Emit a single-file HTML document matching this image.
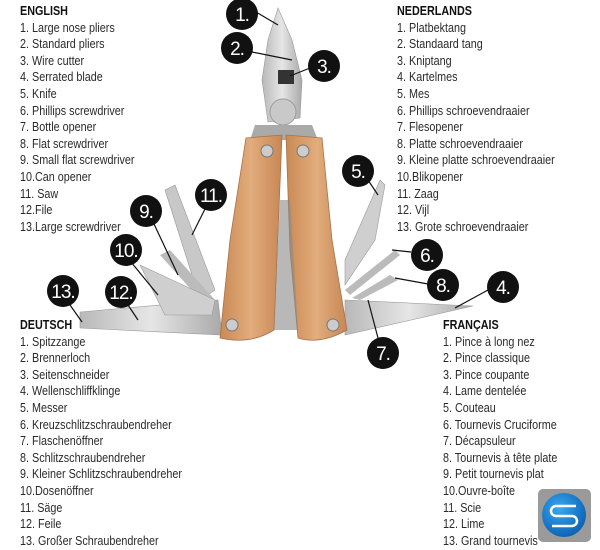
<!DOCTYPE html>
<html><head><meta charset="utf-8"><style>
html,body{margin:0;padding:0;background:#fff;width:600px;height:550px;overflow:hidden;position:relative}
.col{position:absolute;font-family:"Liberation Sans",sans-serif;font-size:13px;line-height:16.6px;color:#2a2a2a;white-space:nowrap;transform:scaleX(0.83);transform-origin:0 0}
.col b{font-weight:bold;color:#111}
svg{position:absolute;left:0;top:0}
</style></head><body>
<svg width="600" height="550" viewBox="0 0 600 550">
<defs>
<linearGradient id="m" x1="0" x2="1"><stop offset="0" stop-color="#b8b8b8"/><stop offset=".5" stop-color="#e6e6e6"/><stop offset="1" stop-color="#a9a9a9"/></linearGradient>
<linearGradient id="w" x1="0" x2="1"><stop offset="0" stop-color="#c98a55"/><stop offset=".5" stop-color="#e2ac7c"/><stop offset="1" stop-color="#c78754"/></linearGradient>
<radialGradient id="b" cx=".4" cy=".35" r=".7"><stop offset="0" stop-color="#39a8f0"/><stop offset="1" stop-color="#0a5fb0"/></radialGradient>
</defs>
<path d="M278 8 L292 40 L302 80 L300 118 L268 122 L262 80 L268 40 Z" fill="url(#m)" stroke="#999" stroke-width=".6"/>
<rect x="278" y="70" width="16" height="14" fill="#333"/>
<circle cx="283" cy="112" r="13" fill="#c9c9c9" stroke="#9a9a9a"/>
<path d="M255 125 L312 125 L318 140 L250 140 Z" fill="#aaa"/>
<path d="M80 312 L218 300 L222 335 L80 328 Z" fill="url(#m)" stroke="#999" stroke-width=".6"/>
<path d="M165 190 L175 185 L215 290 L200 300 Z" fill="#c8c8c8" stroke="#999" stroke-width=".6"/>
<path d="M160 255 L170 250 L215 300 L205 305 Z" fill="#bbb"/>
<path d="M140 265 L215 300 L212 315 L165 315 Z" fill="#cfcfcf" stroke="#999" stroke-width=".6"/>
<path d="M345 300 L473 306 L345 335 Z" fill="url(#m)" stroke="#999" stroke-width=".6"/>
<path d="M380 180 L385 185 L375 240 L345 285 L345 260 Z" fill="#cfcfcf" stroke="#999" stroke-width=".6"/>
<path d="M395 250 L400 255 L350 295 L345 290 Z" fill="#bbb"/>
<path d="M390 275 L398 280 L360 300 L352 298 Z" fill="#bbb"/>
<path d="M246 138 L282 135 L274 330 Q250 345 220 338 L230 240 Z" fill="url(#w)" stroke="#a8714a" stroke-width=".8"/>
<path d="M286 135 L322 138 L332 240 L347 330 Q320 345 298 338 L290 250 Z" fill="url(#w)" stroke="#a8714a" stroke-width=".8"/>
<path d="M280 200 L290 200 L298 330 L274 330 Z" fill="#888" opacity=".6"/>
<circle cx="267" cy="151" r="6" fill="#ccc" stroke="#777"/>
<circle cx="303" cy="151" r="6" fill="#ccc" stroke="#777"/>
<circle cx="232" cy="325" r="6" fill="#ccc" stroke="#777"/>
<circle cx="333" cy="325" r="6" fill="#ccc" stroke="#777"/>
<g stroke="#111" stroke-width="1.2">
<line x1="256" y1="12" x2="278" y2="25"/><line x1="252" y1="52" x2="292" y2="60"/><line x1="310" y1="68" x2="290" y2="76"/>
<line x1="368" y1="180" x2="378" y2="195"/><line x1="411" y1="252" x2="392" y2="250"/><line x1="428" y1="284" x2="395" y2="278"/>
<line x1="488" y1="290" x2="455" y2="308"/><line x1="378" y1="338" x2="368" y2="300"/>
<line x1="205" y1="209" x2="192" y2="235"/><line x1="154" y1="224" x2="178" y2="275"/><line x1="131" y1="262" x2="158" y2="295"/>
<line x1="128" y1="305" x2="138" y2="320"/><line x1="70" y1="305" x2="82" y2="322"/>
</g>
<g fill="#111">
<circle cx="242" cy="14" r="16"/><circle cx="237" cy="48" r="16"/><circle cx="324" cy="66" r="16"/>
<circle cx="358" cy="171" r="16"/><circle cx="427" cy="255" r="16"/><circle cx="443" cy="285" r="16"/>
<circle cx="503" cy="287" r="16"/><circle cx="383" cy="353" r="16"/><circle cx="211" cy="195" r="16"/>
<circle cx="146" cy="211" r="16"/><circle cx="126" cy="250" r="16"/><circle cx="121" cy="292" r="16"/><circle cx="63" cy="291" r="16"/>
</g>
<g fill="#fff" font-family="Liberation Sans,sans-serif" font-size="19" text-anchor="middle" letter-spacing="-1">
<text x="242" y="21">1.</text><text x="237" y="55">2.</text><text x="324" y="73">3.</text>
<text x="358" y="178">5.</text><text x="427" y="262">6.</text><text x="443" y="292">8.</text>
<text x="503" y="294">4.</text><text x="383" y="360">7.</text><text x="211" y="202">11.</text>
<text x="146" y="218">9.</text><text x="126" y="257">10.</text><text x="121" y="299">12.</text><text x="63" y="298">13.</text>
</g>
<rect x="538" y="489" width="53" height="53" rx="5" fill="#9a9a9a"/>
<circle cx="564" cy="515" r="22" fill="url(#b)"/>
<path d="M576 506 H556 a5 5 0 0 0 0 10 H572 a5 5 0 0 1 0 10 H552" fill="none" stroke="#fff" stroke-width="2.5"/>
</svg>
<div class="col" style="left:20px;top:3px"><b>ENGLISH</b><br>1. Large nose pliers<br>2. Standard pliers<br>3. Wire cutter<br>4. Serrated blade<br>5. Knife<br>6. Phillips screwdriver<br>7. Bottle opener<br>8. Flat screwdriver<br>9. Small flat screwdriver<br>10.Can opener<br>11. Saw<br>12.File<br>13.Large screwdriver</div>
<div class="col" style="left:397px;top:3px"><b>NEDERLANDS</b><br>1. Platbektang<br>2. Standaard tang<br>3. Kniptang<br>4. Kartelmes<br>5. Mes<br>6. Phillips schroevendraaier<br>7. Flesopener<br>8. Platte schroevendraaier<br>9. Kleine platte schroevendraaier<br>10.Blikopener<br>11. Zaag<br>12. Vijl<br>13. Grote schroevendraaier</div>
<div class="col" style="left:20px;top:317px"><b>DEUTSCH</b><br>1. Spitzzange<br>2. Brennerloch<br>3. Seitenschneider<br>4. Wellenschliffklinge<br>5. Messer<br>6. Kreuzschlitzschraubendreher<br>7. Flaschenöffner<br>8. Schlitzschraubendreher<br>9. Kleiner Schlitzschraubendreher<br>10.Dosenöffner<br>11. Säge<br>12. Feile<br>13. Großer Schraubendreher</div>
<div class="col" style="left:443px;top:317px"><b>FRANÇAIS</b><br>1. Pince à long nez<br>2. Pince classique<br>3. Pince coupante<br>4. Lame dentelée<br>5. Couteau<br>6. Tournevis Cruciforme<br>7. Décapsuleur<br>8. Tournevis à tête plate<br>9. Petit tournevis plat<br>10.Ouvre-boîte<br>11. Scie<br>12. Lime<br>13. Grand tournevis</div>
</body></html>
